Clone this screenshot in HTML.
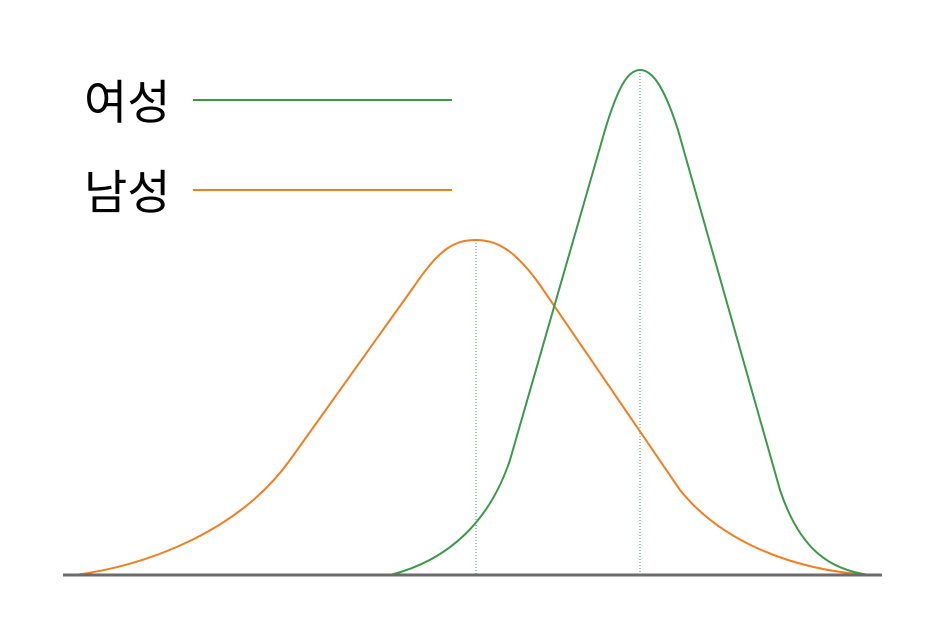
<!DOCTYPE html>
<html><head><meta charset="utf-8"><style>
html,body{margin:0;padding:0;background:#fff;}
svg{display:block;}
text{font-family:"Liberation Sans","Noto Sans CJK KR",sans-serif;}
</style></head><body>
<svg width="940" height="644" viewBox="0 0 940 644">
<rect width="940" height="644" fill="#fff"/>
<line x1="476" y1="240" x2="476" y2="575" stroke="#4a9a5a" stroke-width="1" stroke-dasharray="1,2"/>
<line x1="640" y1="70" x2="640" y2="575" stroke="#4a9a5a" stroke-width="1" stroke-dasharray="1,2"/>
<path d="M75,575 C150,565 240,530 290,460 L415,285 C440,248 455,240 476,240 C497,240 515,250 540,285 L680,490 C720,540 790,570 870,575" fill="none" stroke="#f07f22" stroke-width="2"/>
<path d="M390,575 C450,560 490,520 510,460 L605,130 C620,80 630,70 640,70 C650,70 662,80 678,130 L780,490 C800,550 830,570 870,575" fill="none" stroke="#3a9a48" stroke-width="2"/>
<line x1="63" y1="575" x2="882" y2="575" stroke="#6b6b6b" stroke-width="3"/>
<text x="84" y="119" font-size="47" fill="#000">여성</text>
<line x1="193" y1="100" x2="452" y2="100" stroke="#3a9a48" stroke-width="2"/>
<text x="84" y="209" font-size="47" fill="#000">남성</text>
<line x1="193" y1="190" x2="452" y2="190" stroke="#f07f22" stroke-width="2"/>
</svg>
</body></html>
